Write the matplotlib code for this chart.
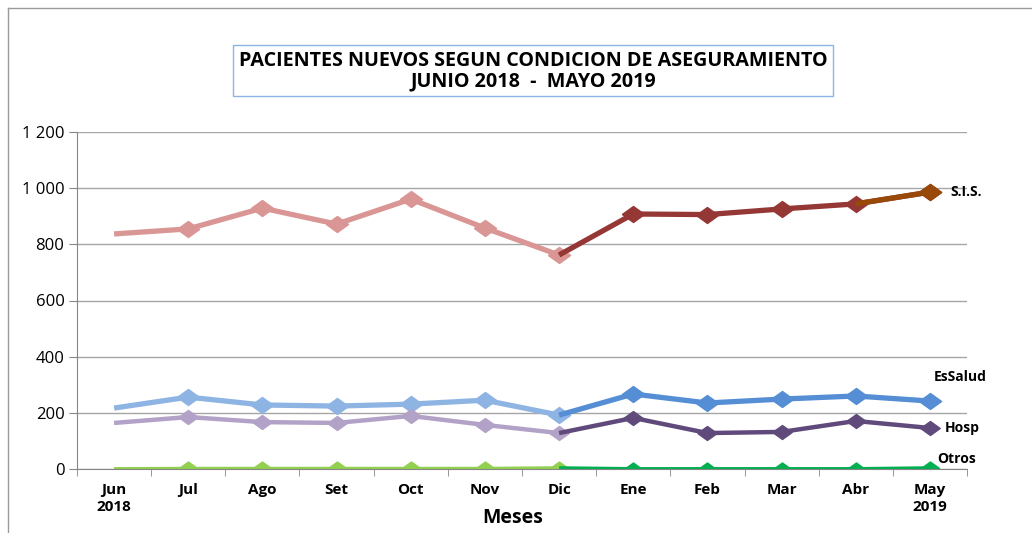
import matplotlib
matplotlib.use("Agg")
from matplotlib import pyplot as plt
from matplotlib.patches import Rectangle
from matplotlib.lines import Line2D

meses = ["Jun\n2018", "Jul", "Ago", "Set", "Oct", "Nov", "Dic",
         "Ene", "Feb", "Mar", "Abr", "May\n2019"]
sis = [837, 855, 929, 872, 961, 858, 762, 908, 906, 926, 944, 986]
essalud = [217, 256, 228, 224, 231, 245, 192, 267, 235, 249, 260, 242]
hosp = [164, 185, 167, 164, 189, 157, 128, 182, 128, 132, 171, 146]
otros = [1, 2, 2, 2, 2, 2, 4, 1, 1, 1, 1, 4]

plt.rcParams['font.family'] = ['Open Sans', 'DejaVu Sans']

fig = plt.figure(figsize=(10.32, 5.33), dpi=100)
ax = fig.add_axes([77 / 1032, 1 - 469 / 533, 890 / 1032, 337 / 533])

x = list(range(len(meses)))
diamante = [(-1, 0), (0, 0.72), (1, 0), (0, -0.72), (-1, 0)]

# (serie, color claro, color oscuro, grosor, tamaño marcador)
series = [
    (sis, "#D99694", "#953735", 3.8, 16),
    (essalud, "#8EB4E3", "#558ED5", 3.8, 16),
    (hosp, "#B3A2C7", "#604A7B", 3.2, 14),
    (otros, "#92D050", "#00B050", 2.4, 13),
]

for valores, claro, oscuro, lw, ms in series:
    # junio a diciembre en color claro
    ax.plot(x[:7], valores[:7], color=claro, lw=lw, marker=diamante, ms=ms,
            markevery=list(range(1, 7)), solid_capstyle="butt")
    # diciembre a mayo en color oscuro
    ax.plot(x[6:], valores[6:], color=oscuro, lw=lw, marker=diamante, ms=ms,
            markevery=list(range(1, 6)), solid_capstyle="butt")

# tramo final del SIS en marrón
ax.plot(x[10:], sis[10:], color="#984807", lw=3.8, marker=diamante, ms=16,
        markevery=[1], solid_capstyle="butt")

ax.set_xlim(-0.5, 11.5)
ax.set_ylim(0, 1200)
ax.set_yticks(range(0, 1201, 200))
ax.set_yticklabels(["0", "200", "400", "600", "800", "1 000", "1 200"])
ax.set_xticks(x)
ax.set_xticklabels(meses, fontweight="bold", fontsize=11, linespacing=1.25)
ax.set_xticks([i - 0.5 for i in range(13)], minor=True)
ax.tick_params(axis="x", which="major", length=0, pad=10)
ax.tick_params(axis="x", which="minor", length=5, color="#868686", direction="out")
ax.tick_params(axis="y", length=6, color="#868686", labelsize=12, pad=3)

ax.grid(axis="y", color="#A6A6A6", lw=1)
ax.set_axisbelow(True)
for lado in ["top", "right"]:
    ax.spines[lado].set_visible(False)
ax.spines["left"].set_color("#868686")
ax.spines["bottom"].set_color("#868686")

ax.set_xlabel("Meses", fontweight="bold", fontsize=14)
ax.xaxis.set_label_coords(0.490, -0.115)

# etiquetas de las series
ax.text(11.27, 986, "S.I.S.", fontweight="bold", fontsize=10, va="center")
ax.text(11.05, 328, "EsSalud", fontweight="bold", fontsize=10, va="center")
ax.text(11.2, 146, "Hosp", fontweight="bold", fontsize=10, va="center")
ax.text(11.1, 36, "Otros", fontweight="bold", fontsize=10, va="center")

# borde del gráfico
fig.add_artist(Line2D([8 / 1032, 8 / 1032], [0, 1 - 8 / 533],
                      color="#9A9A9A", lw=1, transform=fig.transFigure))
fig.add_artist(Line2D([8 / 1032, 1], [1 - 8 / 533, 1 - 8 / 533],
                      color="#9A9A9A", lw=1, transform=fig.transFigure))

# título en recuadro
fig.add_artist(Rectangle((233 / 1032, 1 - 96 / 533), 600 / 1032, 51 / 533,
                         transform=fig.transFigure, fill=False,
                         edgecolor="#8DB3E2", lw=1))
fig.text(533 / 1032, 1 - 71 / 533,
         "PACIENTES NUEVOS SEGUN CONDICION DE ASEGURAMIENTO\nJUNIO 2018  -  MAYO 2019",
         ha="center", va="center", fontweight="bold", fontsize=14.2, linespacing=1.05)

fig.savefig("out.png", dpi=100)
